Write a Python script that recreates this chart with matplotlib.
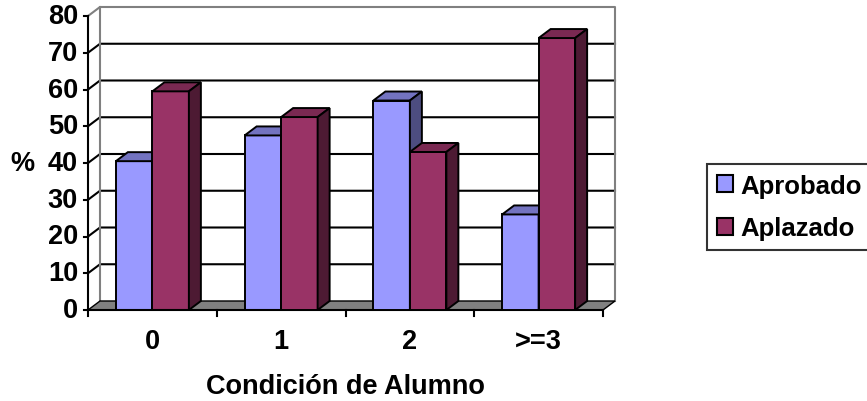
import matplotlib
matplotlib.use('Agg')
import matplotlib.pyplot as plt
from matplotlib.patches import Polygon
import numpy as np

# Data: % of students per condition
categories = ['0', '1', '2', '>=3']
aprobado = [40.5, 47.5, 57, 26]
aplazado = [59.5, 52.5, 43, 74]
series_names = ['Aprobado', 'Aplazado']
yticks = [0, 10, 20, 30, 40, 50, 60, 70, 80]

front_cols = ['#9999ff', '#993366']
top_cols = ['#7373c0', '#7a2952']
side_cols = ['#4d4d80', '#4d1a33']

plt.rcParams['font.family'] = ['Liberation Sans', 'DejaVu Sans']
plt.rcParams['font.weight'] = 'bold'
FS = 19.5

W, H = 867, 402
fig = plt.figure(figsize=(W / 100, H / 100), dpi=100)

# plot area in pixels: front axis at x=88, baseline at y=311 (from top)
px_cat = 128.75
px_val = 3.675
left, base, right, top = 88, 311, 620, 5
ax = fig.add_axes([left / W, (H - base) / H, (right - left) / W, (base - top) / H])
ax.set_xlim(0, (right - left) / px_cat)
ax.set_ylim(0, (base - top) / px_val)
ax.axis('off')

DX = 12 / px_cat   # depth shift in category units
DY = 9 / px_val    # depth shift in value units
n = len(categories)
ymax = yticks[-1]

# back wall and side wall gridlines
for v in yticks[1:-1]:
    ax.plot([0, DX, n + DX], [v, v + DY, v + DY], color='black', lw=1.5, zorder=1, clip_on=False)
ax.plot([0, DX, n + DX, n + DX], [ymax, ymax + DY, ymax + DY, DY],
        color='#808080', lw=1.5, zorder=1, clip_on=False)
ax.plot([DX, DX], [DY, ymax + DY], color='#808080', lw=1.5, zorder=1)

# floor
floor = Polygon([[0, 0], [n, 0], [n + DX, DY], [DX, DY]], closed=True,
                facecolor='#808080', edgecolor='black', lw=1.0, zorder=2)
ax.add_patch(floor)

# front axes
ax.plot([0, 0], [0, ymax], color='black', lw=1.5, zorder=6, clip_on=False)
ax.plot([0, n], [0, 0], color='black', lw=1.5, zorder=6, clip_on=False)
tl = 4.5 / px_cat
for v in yticks:
    ax.plot([-tl, 0], [v, v], color='black', lw=1.5, zorder=6, clip_on=False)
    ax.text(-10 / px_cat, v, str(v), ha='right', va='center', fontsize=FS,
            fontweight='bold')
for i in range(n + 1):
    ax.plot([i, i], [0, -6 / px_val], color='black', lw=1.5, zorder=6, clip_on=False)
for i, c in enumerate(categories):
    ax.text(i + 0.5, -31 / px_val, c, ha='center', va='center', fontsize=FS,
            fontweight='bold')

# 3D columns
bw = 36.5 / px_cat
gap = (1 - 2 * bw) / 2
for i in range(n):
    for s, vals in enumerate([aprobado, aplazado]):
        x0 = i + gap + s * bw
        h = vals[i]
        z = 3 + i * 2 + s
        ax.bar(x0, h, width=bw, align='edge', color=front_cols[s],
               edgecolor='black', lw=1.4, zorder=z)
        ax.add_patch(Polygon([[x0, h], [x0 + bw, h], [x0 + bw + DX, h + DY], [x0 + DX, h + DY]],
                             closed=True, facecolor=top_cols[s], edgecolor='black',
                             lw=1.4, zorder=z))
        ax.add_patch(Polygon([[x0 + bw, 0], [x0 + bw + DX, DY], [x0 + bw + DX, h + DY], [x0 + bw, h]],
                             closed=True, facecolor=side_cols[s], edgecolor='black',
                             lw=1.4, zorder=z))

# axis titles
ax.text(-66 / px_cat, 40, '%', ha='center', va='center', fontsize=FS, fontweight='bold')
ax.text(n / 2, -76 / px_val, 'Condición de Alumno', ha='center', va='center',
        fontsize=FS, fontweight='bold')

# legend
handles = [plt.Rectangle((0, 0), 1, 1, facecolor=front_cols[k], edgecolor='black', lw=1.5)
           for k in range(2)]
fig.legend(handles, series_names, loc='upper left', bbox_to_anchor=(707 / W, 1 - 165 / H),
           frameon=True, fancybox=False, edgecolor='black',
           prop={'weight': 'bold', 'size': 18.5}, handlelength=0.65, handleheight=0.65,
           handletextpad=0.25, borderpad=0.38, labelspacing=0.72, borderaxespad=0)
fig.legends[0].get_frame().set_linewidth(1.5)

fig.savefig('out.png', dpi=100)
